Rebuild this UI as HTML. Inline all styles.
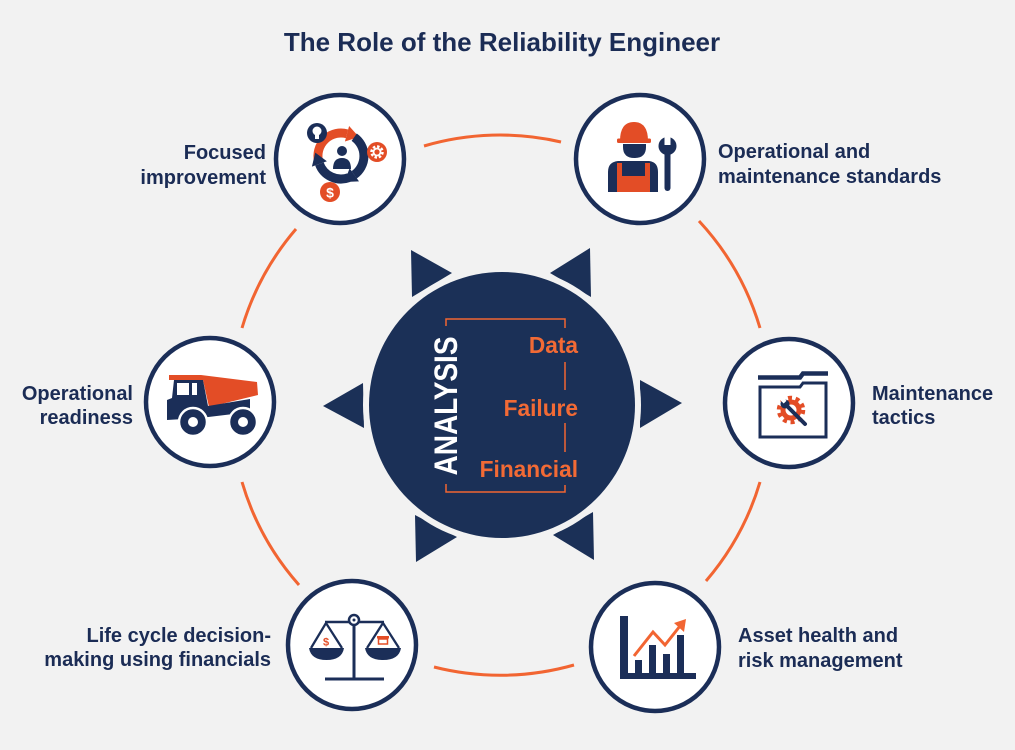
<!DOCTYPE html>
<html>
<head>
<meta charset="utf-8">
<style>
html,body{margin:0;padding:0;background:#f2f2f2;}
body{width:1015px;height:750px;overflow:hidden;}
svg{display:block;}
text{font-family:"Liberation Sans",Arial,sans-serif;font-weight:bold;}
</style>
</head>
<body>
<svg width="1015" height="750" viewBox="0 0 1015 750" xmlns="http://www.w3.org/2000/svg">
<rect width="1015" height="750" fill="#f2f2f2"/>

<!-- Title -->
<text x="502" y="51" text-anchor="middle" font-size="26" fill="#1b2c55">The Role of the Reliability Engineer</text>

<!-- Orange ring arcs -->
<g fill="none" stroke="#f26532" stroke-width="3">
  <path d="M424,146 A270,270 0 0 1 561,142"/>
  <path d="M699,221 A270,270 0 0 1 760,328"/>
  <path d="M760,482 A270,270 0 0 1 706,581"/>
  <path d="M574,665 A270,270 0 0 1 434,667"/>
  <path d="M299,585 A270,270 0 0 1 242,482"/>
  <path d="M242,328 A270,270 0 0 1 296,229"/>
</g>

<!-- Center triangles -->
<g fill="#1b3057">
  <polygon points="411,250 452,273 412,297"/>
  <polygon points="590,248 550,273 591,297"/>
  <polygon points="363,383 323,406 364,428"/>
  <polygon points="640,380 682,403 640,428"/>
  <polygon points="415,515 457,537 416,562"/>
  <polygon points="593,512 553,535 594,560"/>
</g>
<circle cx="502" cy="405" r="139" fill="#f2f2f2"/>
<circle cx="502" cy="405" r="133" fill="#1b3057"/>

<!-- Bracket -->
<g fill="none" stroke="#f26532" stroke-width="1.5">
  <path d="M446,326 V319 H565 V328"/>
  <path d="M565,362 V390"/>
  <path d="M565,423 V452"/>
  <path d="M446,484 V492 H565 V485"/>
</g>
<text transform="translate(457,406) rotate(-90) scale(1,1.17)" text-anchor="middle" font-size="28" fill="#ffffff">ANALYSIS</text>
<text x="578" y="353" text-anchor="end" font-size="22.7" fill="#f26a35">Data</text>
<text x="578" y="416" text-anchor="end" font-size="22.7" fill="#f26a35">Failure</text>
<text x="578" y="477" text-anchor="end" font-size="22.7" fill="#f26a35">Financial</text>

<!-- Node circles -->
<g fill="#ffffff" stroke="#1b2e58" stroke-width="4.5">
  <circle cx="340" cy="159" r="64"/>
  <circle cx="640" cy="159" r="64"/>
  <circle cx="210" cy="402" r="64"/>
  <circle cx="789" cy="403" r="64"/>
  <circle cx="352" cy="645" r="64"/>
  <circle cx="655" cy="647" r="64"/>
</g>

<!-- Labels -->
<g font-size="20" fill="#1b2c55">
  <text x="266" y="159" text-anchor="end">Focused</text>
  <text x="266" y="184" text-anchor="end">improvement</text>
  <text x="718" y="158">Operational and</text>
  <text x="718" y="183">maintenance standards</text>
  <text x="133" y="400" text-anchor="end">Operational</text>
  <text x="133" y="424" text-anchor="end">readiness</text>
  <text x="872" y="400">Maintenance</text>
  <text x="872" y="424">tactics</text>
  <text x="271" y="642" text-anchor="end">Life cycle decision-</text>
  <text x="271" y="666" text-anchor="end">making using financials</text>
  <text x="738" y="642">Asset health and</text>
  <text x="738" y="667">risk management</text>
</g>

<!-- Icon: Focused improvement (cycle) -->
<g>
  <path d="M318.5,161 A23,23 0 0 1 347,133.8" fill="none" stroke="#e34d26" stroke-width="9"/>
  <polygon points="359,137 349.1,126 344.9,141.5" fill="#e34d26"/>
  <path d="M354.2,137.2 A23,23 0 0 1 354.2,174.8" fill="none" stroke="#1b2e58" stroke-width="9"/>
  <polygon points="344.4,182 359,181.4 349.6,168.2" fill="#1b2e58"/>
  <path d="M348.9,177.6 A23,23 0 0 1 319.4,163.9" fill="none" stroke="#1b2e58" stroke-width="9"/>
  <polygon points="315.3,152.6 311.9,166.6 326.9,161.2" fill="#1b2e58"/>
  <circle cx="342" cy="151" r="5" fill="#1b2e58"/>
  <path d="M333,169 Q333,158 342,158 Q351,158 351,169 Z" fill="#1b2e58"/>
  <circle cx="317" cy="133" r="10" fill="#1b2e58"/>
  <circle cx="317" cy="131" r="4.5" fill="#ffffff"/>
  <rect x="315" y="135" width="4" height="4" fill="#ffffff"/>
  <circle cx="377" cy="152" r="10" fill="#e34d26"/>
  <circle cx="377" cy="152" r="5.5" fill="none" stroke="#ffffff" stroke-width="2.5" stroke-dasharray="2.5 1.8"/>
  <circle cx="377" cy="152" r="3.5" fill="none" stroke="#ffffff" stroke-width="1.8"/>
  <circle cx="330" cy="192" r="10" fill="#e34d26"/>
  <text x="330" y="197.5" text-anchor="middle" font-size="14" fill="#ffffff">$</text>
</g>

<!-- Icon: Worker -->
<g>
  <path d="M620,141 Q620,122 634,122 Q648,122 648,141 Z" fill="#e34d26"/>
  <rect x="617" y="138.5" width="34" height="4.5" rx="1.5" fill="#e34d26"/>
  <path d="M623,144 H646 V147 Q646,158 634.5,158 Q623,158 623,147 Z" fill="#1b2e58"/>
  <path d="M608,192 V172 Q608,162 618,161 H649 Q658,162 658,172 V192 Z" fill="#1b2e58"/>
  <rect x="617" y="163" width="5" height="14" fill="#e34d26"/>
  <rect x="645" y="163" width="5" height="14" fill="#e34d26"/>
  <rect x="617" y="176" width="33" height="16" fill="#e34d26"/>
  <rect x="664.5" y="150" width="6" height="41" rx="3" fill="#1b2e58"/>
  <circle cx="667.5" cy="146" r="9" fill="#1b2e58"/>
  <rect x="664.5" y="135" width="6" height="10" fill="#ffffff"/>
</g>

<!-- Icon: Truck -->
<g>
  <polygon points="169,375 201,375 257,382 258,395 209,407 203,380 169,380" fill="#e34d26"/>
  <polygon points="174,380 203,380 208,406 250,399 250,412 200,418 167,420 167,400 172,398" fill="#1b2e58"/>
  <rect x="177" y="383" width="12" height="12" fill="#ffffff"/>
  <rect x="192" y="383" width="5" height="12" fill="#ffffff"/>
  <circle cx="193" cy="422" r="14" fill="#1b2e58" stroke="#ffffff" stroke-width="2.5"/>
  <circle cx="193" cy="422" r="5" fill="#ffffff"/>
  <circle cx="243" cy="422" r="14" fill="#1b2e58" stroke="#ffffff" stroke-width="2.5"/>
  <circle cx="243" cy="422" r="5" fill="#ffffff"/>
</g>

<!-- Icon: Folder -->
<g>
  <path d="M758,377.5 H800 L803,373.5 H828" fill="none" stroke="#1b2e58" stroke-width="4.5"/>
  <path d="M760,387 H800 L803,383 H826 V437 H760 Z" fill="none" stroke="#1b2e58" stroke-width="3"/>
  <circle cx="791" cy="410" r="10.5" fill="#e34d26"/>
  <circle cx="791" cy="410" r="12" fill="none" stroke="#e34d26" stroke-width="4.5" stroke-dasharray="4 3.6"/>
  <circle cx="791" cy="410" r="5.5" fill="#ffffff"/>
  <line x1="786" y1="405" x2="805" y2="424" stroke="#1b2e58" stroke-width="4" stroke-linecap="round"/>
  <circle cx="785" cy="404" r="4.5" fill="#1b2e58"/>
  <rect x="781" y="398" width="4" height="5" fill="#ffffff" transform="rotate(-45 783 400)"/>
</g>

<!-- Icon: Scales -->
<g>
  <rect x="352.5" y="624" width="3" height="55" fill="#1b2e58"/>
  <rect x="325" y="677.5" width="59" height="3" fill="#1b2e58"/>
  <line x1="325" y1="622" x2="384" y2="622" stroke="#1b2e58" stroke-width="2.5"/>
  <circle cx="354" cy="620" r="5" fill="#ffffff" stroke="#1b2e58" stroke-width="2.5"/>
  <circle cx="354" cy="620" r="1.5" fill="#1b2e58"/>
  <path d="M311,648 L326,623 L342,648" fill="none" stroke="#1b2e58" stroke-width="2.3"/>
  <path d="M309,648 H344 Q342,660 326.5,660 Q311,660 309,648 Z" fill="#1b2e58"/>
  <text x="326" y="645.5" text-anchor="middle" font-size="11" fill="#e34d26">$</text>
  <path d="M367,648 L383,623 L399,648" fill="none" stroke="#1b2e58" stroke-width="2.3"/>
  <path d="M365,648 H401 Q399,660 383,660 Q367,660 365,648 Z" fill="#1b2e58"/>
  <rect x="377" y="636" width="12" height="2.5" fill="#e34d26"/>
  <rect x="378.5" y="639" width="9" height="5" fill="none" stroke="#e34d26" stroke-width="1.5"/>
</g>

<!-- Icon: Chart -->
<g fill="#1b2e58">
  <rect x="620" y="616" width="8" height="63"/>
  <rect x="620" y="673" width="76" height="6"/>
  <rect x="635" y="660" width="7" height="14"/>
  <rect x="649" y="645" width="7" height="29"/>
  <rect x="663" y="654" width="7" height="20"/>
  <rect x="677" y="635" width="7" height="39"/>
  <polyline points="634,656 653,632 665,645 680,626" fill="none" stroke="#f26532" stroke-width="3"/>
  <polygon points="686,619 674,623 684,632" fill="#f26532"/>
</g>
</svg>
</body>
</html>
